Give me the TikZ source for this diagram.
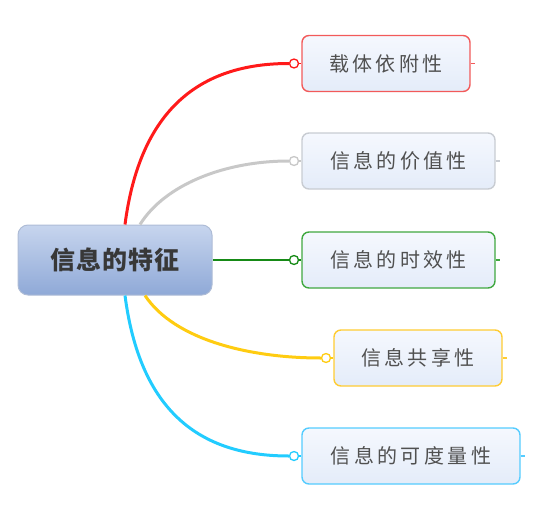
\documentclass[tikz,border=0pt]{standalone}
\usepackage{fontspec}
\setmainfont{Noto Sans CJK SC}
\newfontfamily\leaffont{Noto Sans CJK SC}[LetterSpace=17]
\newfontfamily\mainfont{Noto Sans CJK SC}[LetterSpace=4]
\usetikzlibrary{calc}
\definecolor{redline}{HTML}{FF1A1A}
\definecolor{redbox}{HTML}{F25A5A}
\definecolor{grayline}{HTML}{C8C8C8}
\definecolor{graybox}{HTML}{C8CCD2}
\definecolor{greenline}{HTML}{168A16}
\definecolor{greenbox}{HTML}{40A840}
\definecolor{yelline}{HTML}{FFCC11}
\definecolor{yelbox}{HTML}{FFCC33}
\definecolor{cyanline}{HTML}{22CCFF}
\definecolor{cyanbox}{HTML}{55CCFF}
\definecolor{leaftop}{HTML}{F5F8FE}
\definecolor{leafbot}{HTML}{E4ECF9}
\definecolor{maintop}{HTML}{C7D5EE}
\definecolor{mainbot}{HTML}{8FA9D7}
\definecolor{mainborder}{HTML}{AEBCD6}
\definecolor{txt}{HTML}{505050}
\tikzset{
  leaf/.style={draw=#1, line width=1.4pt, rounded corners=7pt, top color=leaftop, bottom color=leafbot,
    minimum height=56pt, inner sep=0pt, text=txt, font=\leaffont\fontsize{20}{22}\selectfont},
  knob/.style={circle, draw=#1, fill=white, line width=1.3pt, minimum size=9pt, inner sep=0pt},
  conn/.style={draw=#1, line width=3pt},
  tick/.style={draw=#1, line width=1.3pt},
}
\begin{document}
\begin{tikzpicture}[x=1pt,y=-1pt]
\useasboundingbox (0,0) rectangle (547,509);
% central node
\node[draw=mainborder, line width=1pt, rounded corners=10pt, top color=maintop, bottom color=mainbot,
  minimum width=194pt, minimum height=70pt, text=black!78, font=\mainfont\bfseries\fontsize{25}{27}\selectfont]
  (main) at (115,260) {信息的特征};
% leaves
\node[leaf=redbox, minimum width=168pt] (b1) at (386,63.5) {载体依附性};
\node[leaf=graybox, minimum width=193pt] (b2) at (398.5,161) {信息的价值性};
\node[leaf=greenbox, minimum width=193pt] (b3) at (398.5,260) {信息的时效性};
\node[leaf=yelbox, minimum width=168pt] (b4) at (418,358) {信息共享性};
\node[leaf=cyanbox, minimum width=218pt] (b5) at (411,456) {信息的可度量性};
% knobs
\node[knob=redline] (c1) at (294,63.5) {};
\node[knob=grayline] (c2) at (294,161) {};
\node[knob=greenline] (c3) at (294,260) {};
\node[knob=yelline] (c4) at (326,358) {};
\node[knob=cyanline] (c5) at (294,456) {};
% connectors
\draw[conn=redline] ([xshift=10pt]main.north) .. controls +(15,-115) and +(-89,0) .. (c1.west);
\draw[conn=grayline] ([xshift=25pt]main.north) .. controls +(25,-40) and +(-64,0) .. (c2.west);
\draw[conn=greenline, line width=2pt] (main.east) -- (c3.west);
\draw[conn=yelline] ([xshift=30pt]main.south) .. controls +(30,45) and +(-70,0) .. (c4.west);
\draw[conn=cyanline] ([xshift=10pt]main.south) .. controls +(15,115) and +(-90,0) .. (c5.west);
% short links knob -> box
\draw[tick=redline] (c1.east) -- (b1.west);
\draw[tick=grayline] (c2.east) -- (b2.west);
\draw[tick=greenline] (c3.east) -- (b3.west);
\draw[tick=yelline] (c4.east) -- (b4.west);
\draw[tick=cyanline] (c5.east) -- (b5.west);
% right ticks
\draw[tick=redbox] (b1.east) -- ++(4,0);
\draw[tick=graybox] (b2.east) -- ++(4,0);
\draw[tick=greenbox] (b3.east) -- ++(4,0);
\draw[tick=yelbox] (b4.east) -- ++(4,0);
\draw[tick=cyanbox] (b5.east) -- ++(4,0);
\end{tikzpicture}
\end{document}
